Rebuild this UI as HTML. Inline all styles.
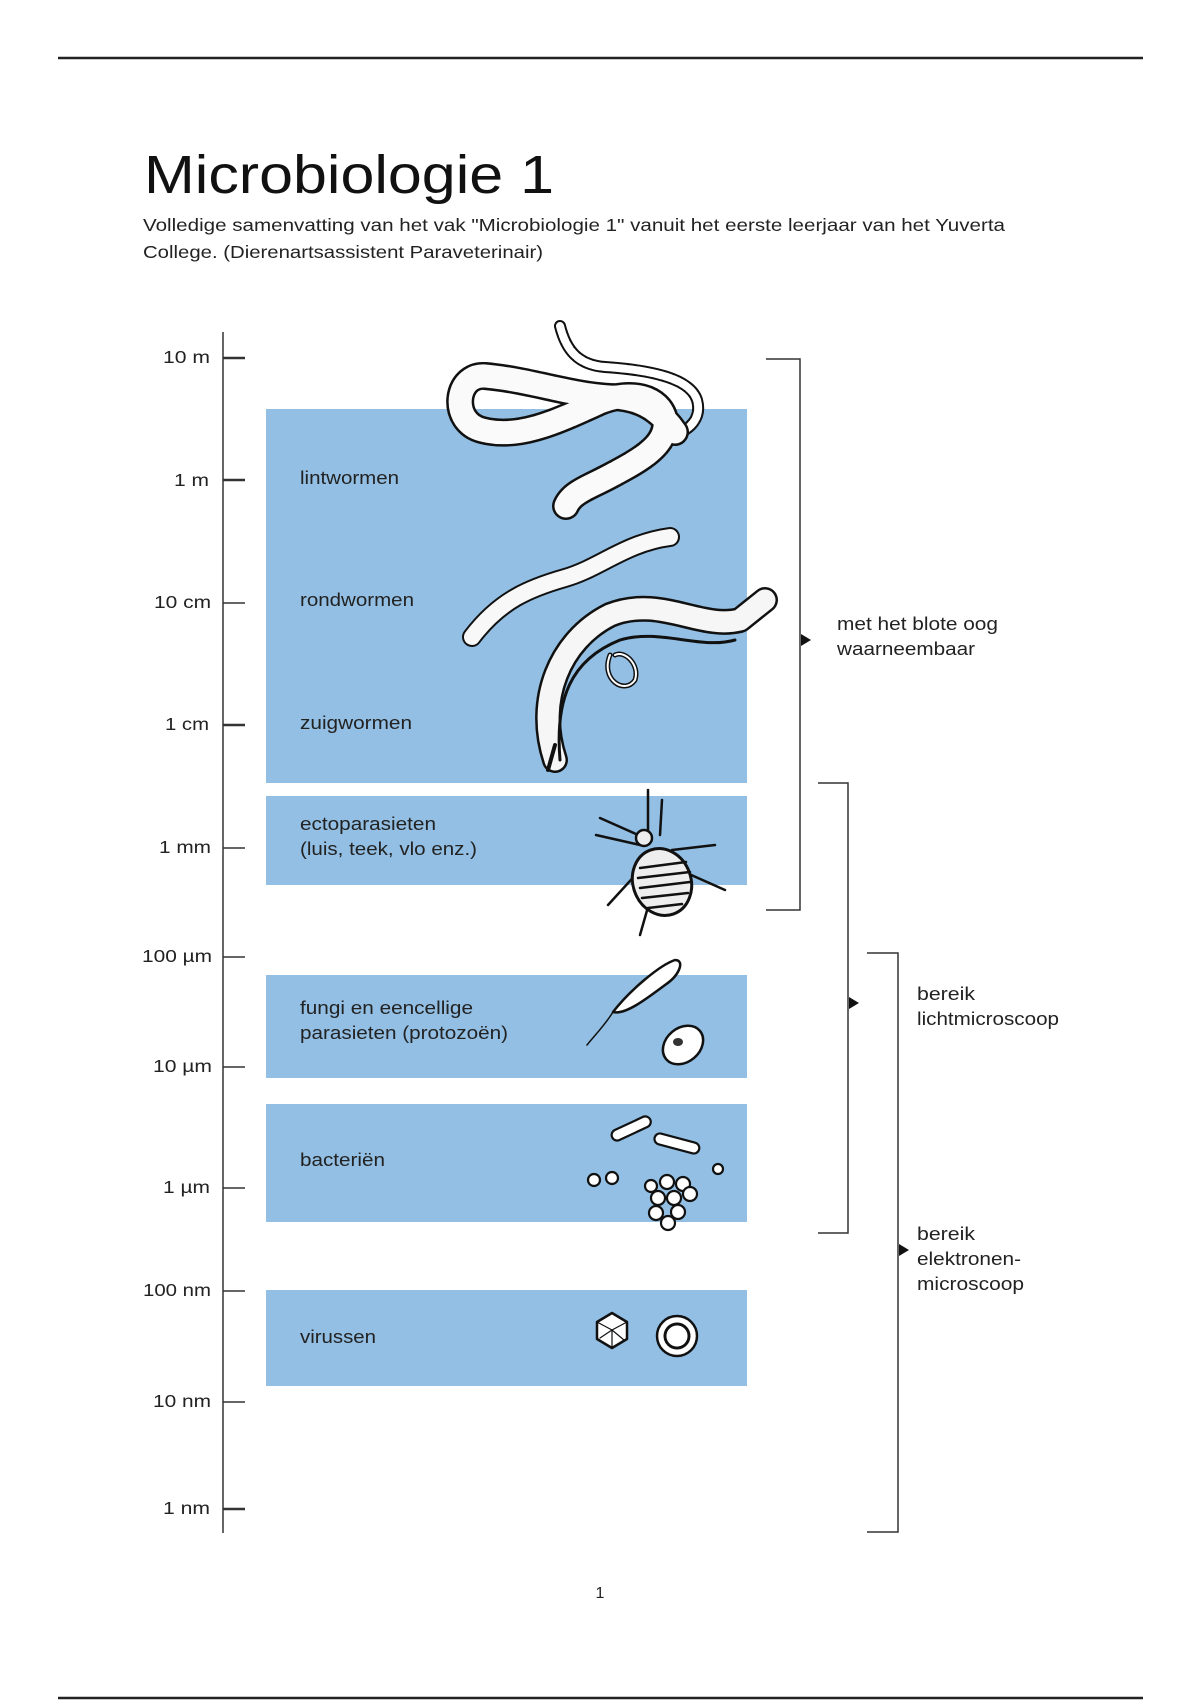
<!DOCTYPE html>
<html><head><meta charset="utf-8"><style>
html,body{margin:0;padding:0;background:#fff}
body{width:1200px;height:1700px;position:relative;overflow:hidden;font-family:"Liberation Sans",sans-serif}
</style></head><body>
<svg width="1200" height="1700" xmlns="http://www.w3.org/2000/svg" style="position:absolute;left:0;top:0">
<line x1="58" y1="58" x2="1143" y2="58" stroke="#222" stroke-width="2.5"/>
<line x1="58" y1="1698" x2="1143" y2="1698" stroke="#222" stroke-width="2.5"/>
<text x="144" y="193" font-size="54" fill="#111" textLength="410" lengthAdjust="spacingAndGlyphs">Microbiologie 1</text>
<text x="143" y="231" font-size="17.5" fill="#222" textLength="862" lengthAdjust="spacingAndGlyphs">Volledige samenvatting van het vak "Microbiologie 1" vanuit het eerste leerjaar van het Yuverta</text>
<text x="143" y="258" font-size="17.5" fill="#222" textLength="400" lengthAdjust="spacingAndGlyphs">College.  (Dierenartsassistent Paraveterinair)</text>
<text x="600" y="1598" font-size="16" fill="#222" text-anchor="middle">1</text>

<g fill="#92bfe3">
<rect x="266" y="409" width="481" height="374"/>
<rect x="266" y="796" width="481" height="89"/>
<rect x="266" y="975" width="481" height="103"/>
<rect x="266" y="1104" width="481" height="118"/>
<rect x="266" y="1290" width="481" height="96"/>
</g>

<g stroke="#333" stroke-width="1.5">
<line x1="223" y1="332" x2="223" y2="1533"/>
<line x1="223" y1="358" x2="245" y2="358" stroke-width="2.5"/>
<line x1="223" y1="480" x2="245" y2="480" stroke-width="2.5"/>
<line x1="223" y1="603" x2="245" y2="603"/>
<line x1="223" y1="725" x2="245" y2="725" stroke-width="2.5"/>
<line x1="223" y1="848" x2="245" y2="848"/>
<line x1="223" y1="957" x2="245" y2="957"/>
<line x1="223" y1="1067" x2="245" y2="1067"/>
<line x1="223" y1="1188" x2="245" y2="1188"/>
<line x1="223" y1="1291" x2="245" y2="1291"/>
<line x1="223" y1="1402" x2="245" y2="1402"/>
<line x1="223" y1="1509" x2="245" y2="1509" stroke-width="2.5"/>
</g>
<g font-size="17.5" fill="#222">
<text x="163" y="363" textLength="47" lengthAdjust="spacingAndGlyphs">10 m</text>
<text x="174" y="486" textLength="35" lengthAdjust="spacingAndGlyphs">1 m</text>
<text x="154" y="608" textLength="57" lengthAdjust="spacingAndGlyphs">10 cm</text>
<text x="165" y="730" textLength="44" lengthAdjust="spacingAndGlyphs">1 cm</text>
<text x="159" y="853" textLength="52" lengthAdjust="spacingAndGlyphs">1 mm</text>
<text x="142" y="962" textLength="70" lengthAdjust="spacingAndGlyphs">100 µm</text>
<text x="153" y="1072" textLength="59" lengthAdjust="spacingAndGlyphs">10 µm</text>
<text x="163" y="1193" textLength="47" lengthAdjust="spacingAndGlyphs">1 µm</text>
<text x="143" y="1296" textLength="68" lengthAdjust="spacingAndGlyphs">100 nm</text>
<text x="153" y="1407" textLength="58" lengthAdjust="spacingAndGlyphs">10 nm</text>
<text x="163" y="1514" textLength="47" lengthAdjust="spacingAndGlyphs">1 nm</text>
</g>
<g font-size="18" fill="#222">
<text x="300" y="484" textLength="99" lengthAdjust="spacingAndGlyphs">lintwormen</text>
<text x="300" y="606" textLength="114" lengthAdjust="spacingAndGlyphs">rondwormen</text>
<text x="300" y="729" textLength="112" lengthAdjust="spacingAndGlyphs">zuigwormen</text>
<text x="300" y="830" textLength="136" lengthAdjust="spacingAndGlyphs">ectoparasieten</text>
<text x="300" y="855" textLength="177" lengthAdjust="spacingAndGlyphs">(luis, teek, vlo enz.)</text>
<text x="300" y="1014" textLength="173" lengthAdjust="spacingAndGlyphs">fungi en eencellige</text>
<text x="300" y="1039" textLength="208" lengthAdjust="spacingAndGlyphs">parasieten (protozoën)</text>
<text x="300" y="1166" textLength="85" lengthAdjust="spacingAndGlyphs">bacteriën</text>
<text x="300" y="1343" textLength="76" lengthAdjust="spacingAndGlyphs">virussen</text>
<text x="837" y="630" textLength="161" lengthAdjust="spacingAndGlyphs">met het blote oog</text>
<text x="837" y="655" textLength="138" lengthAdjust="spacingAndGlyphs">waarneembaar</text>
<text x="917" y="1000" textLength="58" lengthAdjust="spacingAndGlyphs">bereik</text>
<text x="917" y="1025" textLength="142" lengthAdjust="spacingAndGlyphs">lichtmicroscoop</text>
<text x="917" y="1240" textLength="58" lengthAdjust="spacingAndGlyphs">bereik</text>
<text x="917" y="1265" textLength="104" lengthAdjust="spacingAndGlyphs">elektronen-</text>
<text x="917" y="1290" textLength="107" lengthAdjust="spacingAndGlyphs">microscoop</text>
</g>
<g stroke="#333" stroke-width="1.5" fill="none">
<polyline points="766,359 800,359 800,910 766,910"/>
<polyline points="818,783 848,783 848,1233 818,1233"/>
<polyline points="867,953 898,953 898,1532 867,1532"/>
</g>
<g fill="#111">
<polygon points="801,634 811,640 801,646"/>
<polygon points="849,997 859,1003 849,1009"/>
<polygon points="899,1244 909,1250 899,1256"/>
</g>

<g fill="none" stroke-linecap="round" stroke-linejoin="round">
<path d="M560,326 C566,350 578,365 605,367 C650,370 690,378 697,400 C702,418 690,430 675,434" stroke="#111" stroke-width="12"/>
<path d="M560,326 C566,350 578,365 605,367 C650,370 690,378 697,400 C702,418 690,430 675,434" stroke="#fff" stroke-width="8" stroke-dasharray="7 2"/>
<path d="M675,432 C660,410 640,397 610,397 C570,395 530,380 485,376 C455,374 450,422 482,430 C520,440 560,420 600,402 C630,390 660,396 665,420 C668,445 640,460 612,475 C590,487 572,492 566,506" stroke="#111" stroke-width="28"/>
<path d="M675,432 C660,410 640,397 610,397 C570,395 530,380 485,376 C455,374 450,422 482,430 C520,440 560,420 600,402 C630,390 660,396 665,420 C668,445 640,460 612,475 C590,487 572,492 566,506" stroke="#fafafa" stroke-width="23" stroke-dasharray="15 2"/>
<path d="M472,637 C500,600 530,588 565,578 C600,568 625,543 670,537" stroke="#111" stroke-width="20"/>
<path d="M472,637 C500,600 530,588 565,578 C600,568 625,543 670,537" stroke="#f8f8f8" stroke-width="16"/>
<path d="M555,760 C535,700 560,640 610,615 C660,595 700,630 740,620 L765,600" stroke="#111" stroke-width="26"/>
<path d="M555,760 C535,700 560,640 610,615 C660,595 700,630 740,620 L765,600" stroke="#f6f6f6" stroke-width="21"/>
<path d="M560,760 C555,700 570,660 620,640 C660,628 700,650 735,640" stroke="#111" stroke-width="3"/>
<path d="M610,655 C600,680 625,695 635,680 C640,665 625,650 615,655" stroke="#111" stroke-width="5"/>
<path d="M610,655 C600,680 625,695 635,680 C640,665 625,650 615,655" stroke="#fff" stroke-width="2"/>
<path d="M555,745 L548,770" stroke="#111" stroke-width="4"/>
<g stroke="#111" stroke-width="2.5">
<line x1="645" y1="838" x2="600" y2="818"/><line x1="640" y1="845" x2="596" y2="835"/>
<line x1="648" y1="830" x2="648" y2="790"/><line x1="660" y1="835" x2="662" y2="800"/>
<line x1="672" y1="850" x2="715" y2="845"/><line x1="680" y1="870" x2="725" y2="890"/>
<line x1="640" y1="870" x2="608" y2="905"/><line x1="650" y1="900" x2="640" y2="935"/>
</g>
<ellipse cx="662" cy="882" rx="29" ry="34" transform="rotate(-20 662 882)" fill="#eee" stroke="#111" stroke-width="3"/>
<g stroke="#111" stroke-width="2.5"><line x1="640" y1="868" x2="686" y2="862"/><line x1="638" y1="878" x2="690" y2="872"/><line x1="640" y1="888" x2="690" y2="882"/><line x1="642" y1="898" x2="688" y2="893"/><line x1="648" y1="908" x2="682" y2="904"/></g>
<circle cx="644" cy="838" r="8" fill="#eee" stroke="#111" stroke-width="2.5"/>
<path d="M587,1045 C595,1035 605,1025 613,1012" stroke="#111" stroke-width="1.5"/>
<path d="M613,1012 C630,990 660,965 675,960 C685,960 680,975 665,985 C645,1000 625,1015 613,1012 Z" fill="#fff" stroke="#111" stroke-width="2.5"/>
<ellipse cx="683" cy="1045" rx="22" ry="17" transform="rotate(-40 683 1045)" fill="#fff" stroke="#111" stroke-width="2.5"/>
<ellipse cx="678" cy="1042" rx="5" ry="4" fill="#333"/>
<g fill="#fff" stroke="#111" stroke-width="2.2">
<rect x="610" y="1123" width="42" height="11" rx="5.5" transform="rotate(-25 631 1128)"/>
<rect x="654" y="1138" width="46" height="11" rx="5.5" transform="rotate(15 677 1143)"/>
<circle cx="718" cy="1169" r="5"/><circle cx="594" cy="1180" r="6"/><circle cx="612" cy="1178" r="6"/>
<circle cx="651" cy="1186" r="6"/><circle cx="667" cy="1182" r="7"/><circle cx="683" cy="1184" r="7"/>
<circle cx="658" cy="1198" r="7"/><circle cx="674" cy="1198" r="7"/><circle cx="690" cy="1194" r="7"/>
<circle cx="656" cy="1213" r="7"/><circle cx="678" cy="1212" r="7"/><circle cx="668" cy="1223" r="7"/>
</g>
<polygon points="612,1313 627,1322 627,1339 612,1348 597,1339 597,1322" fill="#fff" stroke="#111" stroke-width="2.5"/>
<path d="M597,1322 L612,1330 L627,1322 M612,1330 L612,1348 M600,1338 L612,1330 L624,1340" stroke="#111" stroke-width="1.2"/>
<circle cx="677" cy="1336" r="20" fill="#fff" stroke="#111" stroke-width="2.5"/>
<circle cx="677" cy="1336" r="12" fill="#fff" stroke="#111" stroke-width="3" stroke-dasharray="2 1"/>
</g>
</svg>
</body></html>
